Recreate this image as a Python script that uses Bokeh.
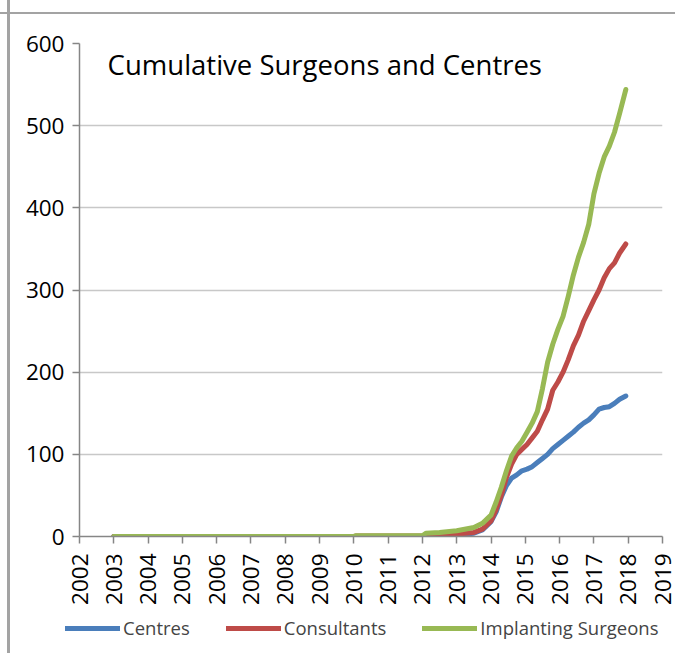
import math
from bokeh.plotting import figure
from bokeh.layouts import column, row
from bokeh.models import Range1d, Legend, LegendItem, Label, FixedTicker
from bokeh.embed import file_html
from bokeh.resources import INLINE

years = [2003.0, 2010.0, 2010.05, 2012.0, 2012.1, 2012.5, 2013.0, 2013.5, 2013.75,
         2014.0, 2014.15, 2014.3, 2014.45, 2014.6, 2014.75, 2014.9, 2015.05, 2015.2,
         2015.35, 2015.5, 2015.65, 2015.8, 2015.95, 2016.1, 2016.25, 2016.4, 2016.55,
         2016.7, 2016.85, 2017.0, 2017.15, 2017.3, 2017.45, 2017.6, 2017.75, 2017.93]

centres = [0, 0, 0, 0, 0.5, 1, 2, 4, 8,
           18, 30, 48, 62, 71, 75, 80, 82, 85,
           90, 95, 100, 107, 112, 117, 122, 127, 133,
           138, 142, 148, 155, 157, 158, 162, 167, 171]

consultants = [0, 0, 0.5, 0.5, 1, 2, 3, 5, 9,
               19, 33, 50, 72, 88, 100, 106, 112, 120,
               128, 142, 155, 178, 188, 200, 215, 232, 245,
               262, 275, 288, 300, 315, 326, 333, 345, 356]

implanting = [0, 0, 1, 1, 4, 5, 7, 11, 16,
              26, 42, 60, 80, 98, 108, 116, 127, 138,
              152, 180, 212, 234, 252, 268, 292, 318, 340,
              358, 380, 417, 442, 462, 475, 492, 515, 544]

series_names = ["Centres", "Consultants", "Implanting Surgeons"]
series_colors = ["#4a7ebb", "#be4b48", "#98b954"]
x_ticks = list(range(2002, 2020))
y_ticks = list(range(0, 601, 100))
title_text = "Cumulative Surgeons and Centres"

FONT = "Open Sans"
AX = "#868686"
series = [centres, consultants, implanting]

p = figure(width=675, height=610, output_backend="svg", toolbar_location=None,
           x_range=Range1d(2002, 2019), y_range=Range1d(0, 600),
           min_border_left=79, min_border_right=13, min_border_top=43, min_border_bottom=74)
p.outline_line_color = None
p.border_fill_color = None
p.xgrid.visible = False
p.ygrid.grid_line_color = "#c8c8c8"
p.ygrid.grid_line_width = 1.5
p.ygrid.ticker = FixedTicker(ticks=y_ticks)

p.xaxis.ticker = FixedTicker(ticks=x_ticks)
p.yaxis.ticker = FixedTicker(ticks=y_ticks)
for ax in (p.xaxis, p.yaxis):
    ax.axis_line_color = AX
    ax.axis_line_width = 1.5
    ax.major_tick_line_color = AX
    ax.major_tick_line_width = 1.5
    ax.major_tick_out = 7
    ax.major_tick_in = 0
    ax.minor_tick_line_color = None
    ax.major_label_text_font = FONT
    ax.major_label_text_font_size = "22.5px"
    ax.major_label_text_color = "black"
p.xaxis.major_label_orientation = math.pi / 2
p.xaxis.major_label_standoff = 10
p.yaxis.major_label_standoff = 8

for vals, col in zip(series, series_colors):
    p.line(years, vals, line_color=col, line_width=5, line_cap="round", line_join="round")

p.add_layout(Label(x=2002.82, y=575, text=title_text, text_font=FONT,
                   text_font_size="27.5px", text_color="black", text_baseline="alphabetic"))

# legend strip below the chart (its own ranges keep the lines off-screen; only legend shows)
lf = figure(width=675, height=43, output_backend="svg", toolbar_location=None,
            x_range=Range1d(0, 1), y_range=Range1d(0, 1),
            x_axis_location=None, y_axis_location=None,
            min_border_left=0, min_border_right=0, min_border_top=0, min_border_bottom=0)
lf.grid.visible = False
lf.outline_line_color = None
lf.border_fill_color = None
lf.background_fill_color = None
items = []
for name, vals, col in zip(series_names, series, series_colors):
    r = lf.line(years, vals, line_color=col, line_width=5, line_cap="round")
    items.append(LegendItem(label=name, renderers=[r]))
legend = Legend(items=items, orientation="horizontal", location=(65, 13),
                label_text_font=FONT, label_text_font_size="18.5px",
                glyph_width=55, glyph_height=24, label_standoff=3, spacing=36,
                padding=0, margin=0, border_line_color=None, background_fill_alpha=0)
lf.add_layout(legend, "center")

frame_lines = {
    "background-color": "white",
    "background-image": ("linear-gradient(to right, transparent 7px, #a3a3a3 7px, #a3a3a3 10px, transparent 10px), "
                         "linear-gradient(to bottom, transparent 12px, #a3a3a3 12px, #a3a3a3 14px, transparent 14px)"),
}
layout = column(p, row(lf), spacing=0, styles=frame_lines)

open("out.html", "w").write(file_html(layout, INLINE))
